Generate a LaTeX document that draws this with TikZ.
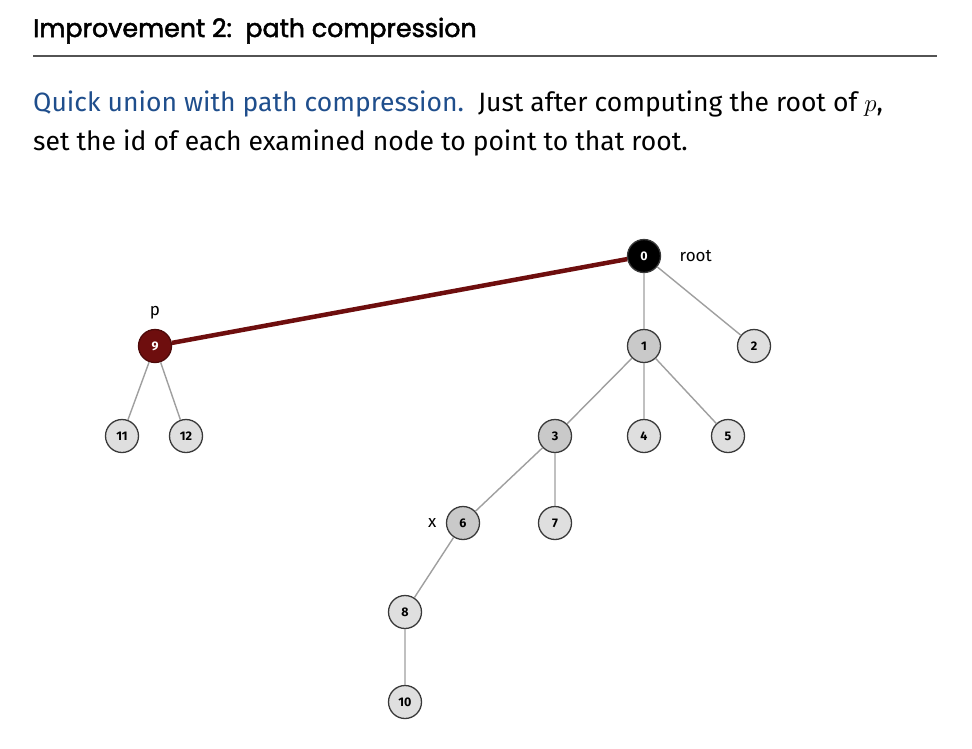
\documentclass[tikz,border=0pt]{standalone}
\usepackage{fontspec}
\setmainfont{Fira Sans}
\newfontfamily\headfont[FakeBold=2]{Poppins}
\usepackage{tikz}
\usetikzlibrary{positioning}
\definecolor{titleblue}{HTML}{1F4E8C}
\definecolor{pathred}{HTML}{6E0E0E}
\tikzset{
x=1pt, y=-1pt, % one unit is one pixel of the slide, y runs downwards
node distance=90pt, % vertical spacing between the levels of the tree
every uf/.style={circle, draw=gray!45!black, line width=1.3pt, minimum size=33pt, inner sep=0pt, font=\fontsize{12.5}{12.5}\selectfont\bfseries}, % sets the look of each tree node
leaf/.style={every uf, fill=gray!25}, % node that was not examined
onpath/.style={every uf, fill=gray!42}, % node on the examined path
root/.style={every uf, fill=black, text=white}, % the root
start/.style={every uf, fill=pathred, draw=pathred!70!black, text=white}, % the node p
link/.style={draw=gray!75, line width=1.4pt}, % tree edge
newlink/.style={draw=pathred, line width=4.5pt}, % edge set by compression
}

\begin{document}
\begin{tikzpicture}
    \useasboundingbox[fill=white] (0,0) rectangle (972,748);

    % heading
    \node[anchor=base west, inner sep=0pt, font=\headfont\fontsize{25.3}{25.3}\selectfont] (title) at (33,37) {Improvement 2:\ \ path compression};
    \draw[gray!65!black, line width=2pt] (33,56) -- (937,56);
    \node[anchor=base west, inner sep=0pt, font=\fontsize{26.5}{26.5}\selectfont] (line1) at (33,111)
        {\textcolor{titleblue}{Quick union with path compression.}\ \ Just after computing the root of $p$,};
    \node[anchor=base west, inner sep=0pt, font=\fontsize{26.5}{26.5}\selectfont] (line2) at (33,150)
        {set the id of each examined node to point to that root.};

    % tree
    \node[root] (n0) at (644,256) {0};
    \node[onpath, below of=n0] (n1) {1};
    \node[leaf, below of=n0, xshift=110pt] (n2) {2};
    \node[onpath, below of=n1, xshift=-89pt] (n3) {3};
    \node[leaf, below of=n1] (n4) {4};
    \node[leaf, below of=n1, xshift=84pt] (n5) {5};
    \node[onpath, below of=n3, xshift=-92pt, yshift=3pt] (n6) {6};
    \node[leaf, below of=n3, yshift=3pt] (n7) {7};
    \node[leaf, below of=n6, xshift=-58pt, yshift=1pt] (n8) {8};
    \node[leaf, below of=n8] (n10) {10};
    \node[start] (n9) at (155,346) {9};
    \node[leaf, below of=n9, xshift=-33pt] (n11) {11};
    \node[leaf, below of=n9, xshift=31pt] (n12) {12};

    \node[right=15pt of n0, font=\fontsize{17}{17}\selectfont] (lroot) {root};
    \node[above=6pt of n9, font=\fontsize{17}{17}\selectfont] (lp) {p};
    \node[left=6pt of n6, font=\fontsize{17}{17}\selectfont] (lx) {x};

    \begin{scope}[on background layer/.try]
    \draw[link] (n0) -- (n1) (n0) -- (n2)
        (n1) -- (n3) (n1) -- (n4) (n1) -- (n5)
        (n3) -- (n6) (n3) -- (n7)
        (n6) -- (n8) (n8) -- (n10)
        (n9) -- (n11) (n9) -- (n12);
    \draw[newlink] (n9) -- (n0);
    \end{scope}
  \end{tikzpicture}
\end{document}
